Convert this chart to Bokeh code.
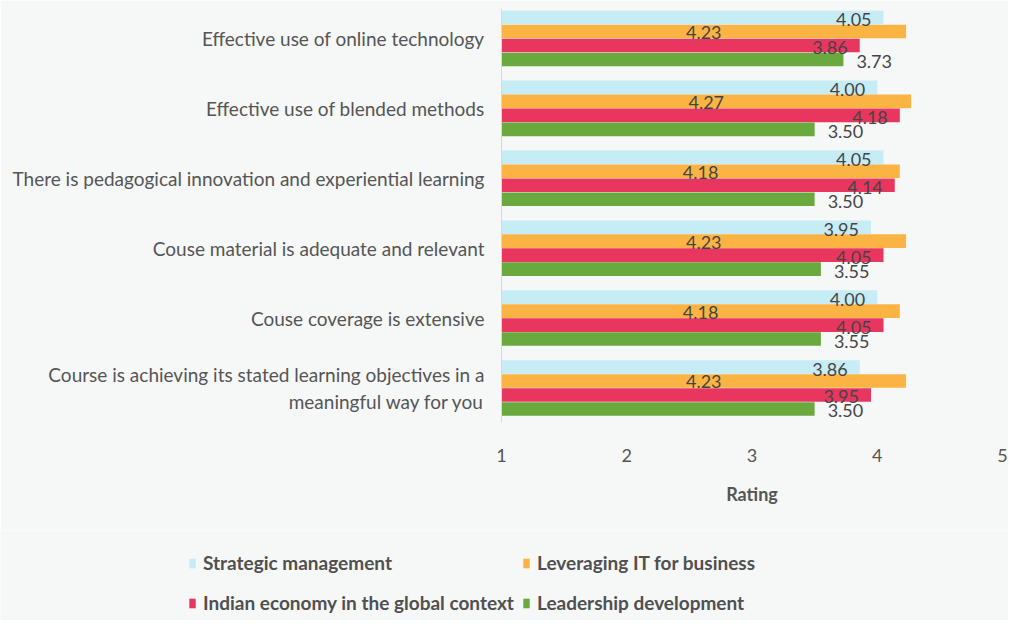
from bokeh.plotting import figure
from bokeh.models import ColumnDataSource, Range1d, FixedTicker, Legend, LegendItem, LabelSet
from bokeh.layouts import column
from bokeh.transform import dodge
from bokeh.core.properties import value
from bokeh.embed import file_html
from bokeh.resources import INLINE

categories = [
    "Effective use of online technology",
    "Effective use of blended methods",
    "There is pedagogical innovation and experiential learning",
    "Couse material is adequate and relevant",
    "Couse coverage is extensive",
    "Course is achieving its stated learning objectives in a meaningful way for you",
]
series_names = [
    "Strategic management",
    "Leveraging IT for business",
    "Indian economy in the global context",
    "Leadership development",
]
strategic_management = [4.05, 4.00, 4.05, 3.95, 4.00, 3.86]
leveraging_it = [4.23, 4.27, 4.18, 4.23, 4.18, 4.23]
indian_economy = [3.86, 4.18, 4.14, 4.05, 4.05, 3.95]
leadership_dev = [3.73, 3.50, 3.50, 3.55, 3.55, 3.50]
x_ticks = [1, 2, 3, 4, 5]

colors = ["#c6ecf6", "#fbb444", "#e9365f", "#6aa93e"]
series_values = [strategic_management, leveraging_it, indian_economy, leadership_dev]
offsets = [-0.3, -0.1, 0.1, 0.3]

BG = "#f6f7f7"
FONT = "Lato"

p = figure(width=1008, height=530, output_backend="svg", toolbar_location=None,
           x_range=Range1d(1, 5), y_range=Range1d(5.494, -0.429),
           min_border_left=501, min_border_right=6, min_border_top=8, min_border_bottom=108,
           background_fill_color=BG, border_fill_color=BG, outline_line_color=None,
           frame_align=False)

ypos = list(range(len(categories)))
sources = []
for name, vals, col, off in zip(series_names, series_values, colors, offsets):
    src = ColumnDataSource(dict(
        y=ypos, v=vals, mid=[(1 + v) / 2 for v in vals],
        lab=["%.2f" % v for v in vals]))
    sources.append(src)
    p.hbar(y=dodge("y", off), left=1, right="v", height=0.195, source=src,
           fill_color=col, line_color=None)
    if name == "Leveraging IT for business":
        ls = LabelSet(x="mid", y=dodge("y", off), text="lab", source=src,
                      text_align="center", text_baseline="middle", y_offset=-1)
    elif name == "Leadership development":
        ls = LabelSet(x="v", y=dodge("y", off), text="lab", source=src,
                      text_align="left", text_baseline="middle", x_offset=13, y_offset=-2)
    else:
        ls = LabelSet(x="v", y=dodge("y", off), text="lab", source=src,
                      text_align="right", text_baseline="middle", x_offset=-12, y_offset=-2)
    ls.text_font = value(FONT)
    ls.text_font_size = value("18px")
    ls.text_color = value("#454545")
    p.add_layout(ls)

p.grid.visible = False

# x axis
xa = p.xaxis[0]
xa.ticker = FixedTicker(ticks=x_ticks)
xa.axis_line_color = None
xa.major_tick_line_color = None
xa.minor_tick_line_color = None
xa.major_label_standoff = 20
xa.major_label_text_font = FONT
xa.major_label_text_font_size = "18px"
xa.major_label_text_color = "#555555"
xa.axis_label = "Rating"
xa.axis_label_text_font = FONT
xa.axis_label_text_font_style = "bold"
xa.axis_label_text_font_size = "18px"
xa.axis_label_text_color = "#555555"
xa.axis_label_standoff = 18

# y axis
ya = p.yaxis[0]
ya.ticker = FixedTicker(ticks=ypos)
overrides = {i: c for i, c in enumerate(categories)}
overrides[5] = "Course is achieving its stated learning objectives in a\nmeaningful way for you"
ya.major_label_overrides = overrides
ya.axis_line_color = "#d8dada"
ya.major_tick_line_color = None
ya.minor_tick_line_color = None
ya.major_label_standoff = 11
ya.major_label_text_font = FONT
ya.major_label_text_font_size = "19px"
ya.major_label_text_color = "#555555"

# legend strip below the chart (its own frame, so the legend is not clipped)
lf = figure(width=1008, height=90, output_backend="svg", toolbar_location=None,
            x_axis_location=None, y_axis_location=None,
            x_range=Range1d(1, 5), y_range=Range1d(100, 101),
            min_border_left=0, min_border_right=0, min_border_top=0, min_border_bottom=0,
            background_fill_color=BG, border_fill_color=BG, outline_line_color=None,
            frame_align=False)
lf.grid.visible = False
legend_renderers = []
for src, col, off in zip(sources, colors, offsets):
    # same series; the strip's y range shows none of the bars, only the legend keys
    legend_renderers.append(lf.hbar(y=dodge("y", off), left=1, right="v", height=0.195,
                                    source=src, fill_color=col, line_color=None))

legend_locs = [(188, 46), (522, 46), (188, 6), (522, 6)]
for name, r, loc in zip(series_names, legend_renderers, legend_locs):
    lg = Legend(items=[LegendItem(label=name, renderers=[r])],
                location=loc, padding=0, margin=0, border_line_color=None,
                background_fill_alpha=0, glyph_width=8, glyph_height=12, label_standoff=7,
                label_height=20, label_text_font=FONT, label_text_font_style="bold",
                label_text_font_size="19px", label_text_color="#505050")
    lf.add_layout(lg, "center")

layout = column(p, lf, spacing=0)
open("out.html", "w").write(file_html(layout, INLINE))
